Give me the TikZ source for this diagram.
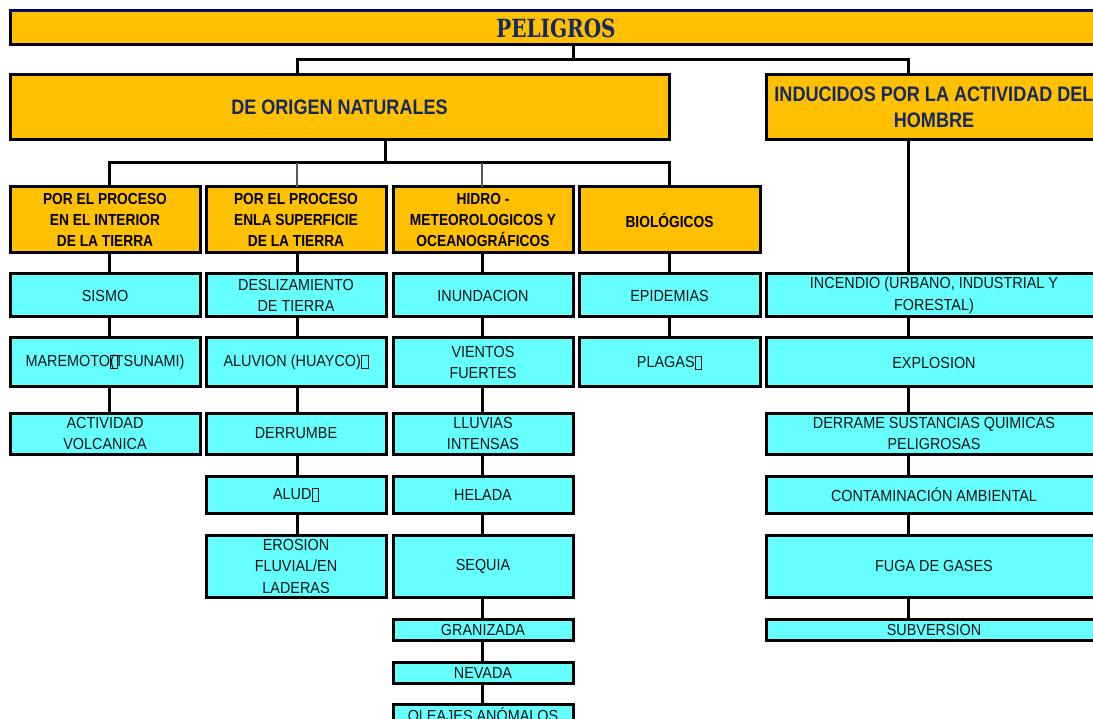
\documentclass[tikz,border=0pt]{standalone}
\usepackage{fontspec}
\setmainfont{Liberation Sans}
\newfontfamily\bodyfont{Liberation Sans}[FakeStretch=0.9]
\newfontfamily\headfont{Liberation Sans}[FakeStretch=0.86]
\newfontfamily\titlefont{DejaVu Serif}[FakeStretch=0.8]

\definecolor{boxyellow}{RGB}{255,192,0}
\definecolor{boxcyan}{RGB}{102,255,255}
\definecolor{headnavy}{RGB}{22,40,96}
\definecolor{rulenavy}{RGB}{10,10,130}

% empty glyph box for characters the original font could not show
\newcommand{\tofu}{{\fboxsep=0pt\fboxrule=0.7pt\raisebox{-1.5pt}{\fbox{\rule{0pt}{12.5pt}\rule{6pt}{0pt}}}}}

% box by its corners: style, name, x1, y1, x2, y2, text
\newcommand{\hazbox}[7]{%
  \node[#1, minimum width={#5-#3}, minimum height={#6-#4}] (#2)
    at ({(#3+#5)/2},{(#4+#6)/2}) {#7};}

\tikzset{
  base/.style={rectangle, draw=black, line width=3pt, inner sep=0pt,
    outer sep=0pt, align=center},
  titlebox/.style={base, fill=boxyellow, text=headnavy,
    font=\titlefont\bfseries\fontsize{25}{28}\selectfont},
  topbox/.style={base, fill=boxyellow, text=headnavy,
    font=\headfont\bfseries\fontsize{21}{26}\selectfont},
  groupbox/.style={base, fill=boxyellow, text=black,
    font=\headfont\bfseries\fontsize{16}{21}\selectfont},
  itembox/.style={base, fill=boxcyan, text=black!92,
    font=\bodyfont\fontsize{16}{21.5}\selectfont},
  link/.style={draw=black, line width=3pt, line join=miter},
  thinlink/.style={draw=black!65, line width=1.5pt},
  topline/.style={draw=rulenavy, line width=2.6pt}
}

\begin{document}
\begin{tikzpicture}[x=1pt, y=-1pt]
\useasboundingbox (0,0) rectangle (1093,719);
\clip (0,0) rectangle (1093,719);

% column and bus positions
\coordinate (xTop) at (573,0);
\coordinate (xNat) at (297,0);
\coordinate (xInd) at (908,0);
\coordinate (xMid) at (385,0);
\coordinate (xA) at (109,0);
\coordinate (xB) at (297,0);
\coordinate (xC) at (482,0);
\coordinate (xD) at (669,0);
\coordinate (xE) at (908,0);
\coordinate (bus1) at (0,60);
\coordinate (bus2) at (0,163);

% title
\hazbox{titlebox}{peligros}{10}{11}{1102}{45}{PELIGROS}
\draw[topline] (peligros.north west) -- (peligros.north east);

% two main branches
\hazbox{topbox}{natural}{10}{75}{669}{140}{DE ORIGEN NATURALES}
\hazbox{topbox}{induced}{766}{75}{1102}{140}{INDUCIDOS POR LA ACTIVIDAD DEL\\HOMBRE}

% natural groups
\hazbox{groupbox}{grpA}{10}{187}{200}{253}{POR EL PROCESO\\EN EL INTERIOR\\DE LA TIERRA}
\hazbox{groupbox}{grpB}{206}{187}{386}{253}{POR EL PROCESO\\ENLA SUPERFICIE\\DE LA TIERRA}
\hazbox{groupbox}{grpC}{393}{187}{573}{253}{HIDRO -\\METEOROLOGICOS Y\\OCEANOGRÁFICOS}
\hazbox{groupbox}{grpD}{579}{187}{760}{253}{BIOLÓGICOS}

% interior of the earth
\hazbox{itembox}{a1}{10}{274}{200}{317}{SISMO}
\hazbox{itembox}{a2}{10}{338}{200}{387}{MAREMOTO\rlap{\tofu}(TSUNAMI)}
\hazbox{itembox}{a3}{10}{413}{200}{454}{ACTIVIDAD\\VOLCANICA}

% earth surface
\hazbox{itembox}{b1}{206}{274}{386}{317}{DESLIZAMIENTO\\DE TIERRA}
\hazbox{itembox}{b2}{206}{338}{386}{387}{ALUVION (HUAYCO)\tofu}
\hazbox{itembox}{b3}{206}{413}{386}{454}{DERRUMBE}
\hazbox{itembox}{b4}{206}{476}{386}{513}{ALUD\tofu}
\hazbox{itembox}{b5}{206}{535}{386}{597}{EROSION\\FLUVIAL/EN\\LADERAS}

% hydro-meteorological
\hazbox{itembox}{c1}{393}{274}{573}{317}{INUNDACION}
\hazbox{itembox}{c2}{393}{338}{573}{387}{VIENTOS\\FUERTES}
\hazbox{itembox}{c3}{393}{413}{573}{454}{LLUVIAS\\INTENSAS}
\hazbox{itembox}{c4}{393}{476}{573}{513}{HELADA}
\hazbox{itembox}{c5}{393}{535}{573}{597}{SEQUIA}
\hazbox{itembox}{c6}{393}{619}{573}{640}{GRANIZADA}
\hazbox{itembox}{c7}{393}{662}{573}{683}{NEVADA}
\hazbox{itembox}{c8}{393}{704}{573}{725}{OLEAJES ANÓMALOS}

% biological
\hazbox{itembox}{d1}{579}{274}{760}{317}{EPIDEMIAS}
\hazbox{itembox}{d2}{579}{338}{760}{387}{PLAGAS\tofu}

% human induced
\hazbox{itembox}{e1}{766}{274}{1102}{317}{INCENDIO (URBANO, INDUSTRIAL Y\\FORESTAL)}
\hazbox{itembox}{e2}{766}{338}{1102}{387}{EXPLOSION}
\hazbox{itembox}{e3}{766}{413}{1102}{454}{DERRAME SUSTANCIAS QUIMICAS\\PELIGROSAS}
\hazbox{itembox}{e4}{766}{476}{1102}{513}{CONTAMINACIÓN AMBIENTAL}
\hazbox{itembox}{e5}{766}{535}{1102}{597}{FUGA DE GASES}
\hazbox{itembox}{e6}{766}{619}{1102}{640}{SUBVERSION}

% connectors: title to branches
\draw[link] (peligros.south -| xTop) -- (bus1 -| xTop);
\draw[link] (natural.north -| xNat) -- (bus1 -| xNat) -- (bus1 -| xInd) -- (induced.north -| xInd);

% connectors: natural branch to its groups
\draw[link] (natural.south -| xMid) -- (bus2 -| xMid);
\draw[link] (grpA.north -| xA) -- (bus2 -| xA) -- (bus2 -| xD) -- (grpD.north -| xD);
\draw[thinlink] (bus2 -| xB) -- (grpB.north -| xB);
\draw[thinlink] (bus2 -| xC) -- (grpC.north -| xC);

% connectors: columns
\foreach \u/\v in {grpA/a1, a1/a2, a2/a3}
  \draw[link] (\u.south -| xA) -- (\v.north -| xA);
\foreach \u/\v in {grpB/b1, b1/b2, b2/b3, b3/b4, b4/b5}
  \draw[link] (\u.south -| xB) -- (\v.north -| xB);
\foreach \u/\v in {grpC/c1, c1/c2, c2/c3, c3/c4, c4/c5, c5/c6, c6/c7, c7/c8}
  \draw[link] (\u.south -| xC) -- (\v.north -| xC);
\foreach \u/\v in {grpD/d1, d1/d2}
  \draw[link] (\u.south -| xD) -- (\v.north -| xD);
\foreach \u/\v in {induced/e1, e1/e2, e2/e3, e3/e4, e4/e5, e5/e6}
  \draw[link] (\u.south -| xE) -- (\v.north -| xE);
\end{tikzpicture}
\end{document}
